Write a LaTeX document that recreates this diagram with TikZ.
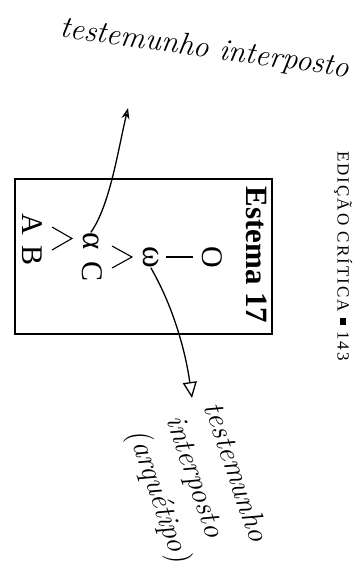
\documentclass[tikz,border=0pt]{standalone}
\usepackage{fontspec}
\newfontfamily\impreso{Liberation Serif}
\newfontfamily\cabecera[LetterSpace=12]{Liberation Serif}
\usetikzlibrary{arrows.meta}

\begin{document}
\begin{tikzpicture}[x=1pt,y=-1pt,
  mano/.style={font=\fontsize{31}{31}\selectfont\itshape,inner sep=0pt},
  letra/.style={font=\impreso\fontsize{30}{30}\selectfont,rotate=-90,inner sep=0pt},
  griega/.style={font=\impreso\fontsize{33}{33}\selectfont,rotate=-90,inner sep=0pt},
  rama/.style={line width=1.1pt},
  flecha/.style={line width=1.3pt,line cap=round}]
  \useasboundingbox (0,0) rectangle (359,583);
  % cabecera de la pagina
  \node[font=\cabecera\fontsize{17}{17}\selectfont,rotate=-90] (cab) at (343,256)
    {EDIÇÃO CRÍTICA \rule[0.12em]{0.4em}{0.4em} 143};
  % estema
  \draw[line width=1.2pt] (15,179) rectangle (272,334);
  \node[letra,font=\impreso\bfseries\fontsize{31}{31}\selectfont] (titulo) at (257,255) {Estema 17};
  \node[letra] (O) at (212,257) {O};
  \node[griega] (w) at (151,257) {ω};
  \node[griega] (a) at (91,241) {α};
  \node[letra] (C) at (92,272) {C};
  \node[letra] (A) at (32,224) {A};
  \node[letra] (B) at (32,256) {B};
  \coordinate (wfork) at (132,257);
  \coordinate (afork) at (72,238.5);
  \draw[rama,shorten <=9pt,shorten >=7pt] (O) -- (w);
  \draw[rama] (wfork) ++(-20,-11) -- (wfork) -- ++(-20,11);
  \draw[rama] (afork) ++(-20,-11.5) -- (afork) -- ++(-20,11.5);
  % anotaciones a mano
  \node[mano,anchor=base,rotate=-8] (nota1) at (204,57) {testemunho interposto};
  \coordinate (puntasup) at (128,108);
  \draw[flecha,-{Stealth[open,length=11pt,width=8pt]}] (a.west) .. controls (110,205) and (118,150) .. (puntasup);
  \coordinate (puntainf) at (192,398);
  \draw[flecha,-{Triangle[open,length=16pt,width=14pt]}] (w.east) .. controls (175,310) and (186,355) .. (puntainf);
  \node[mano,font=\fontsize{30}{40}\selectfont\itshape,align=left,rotate=-71] (nota2) at (196,486)
    {testemunho\\interposto\\(arquétipo)};
\end{tikzpicture}
\end{document}
